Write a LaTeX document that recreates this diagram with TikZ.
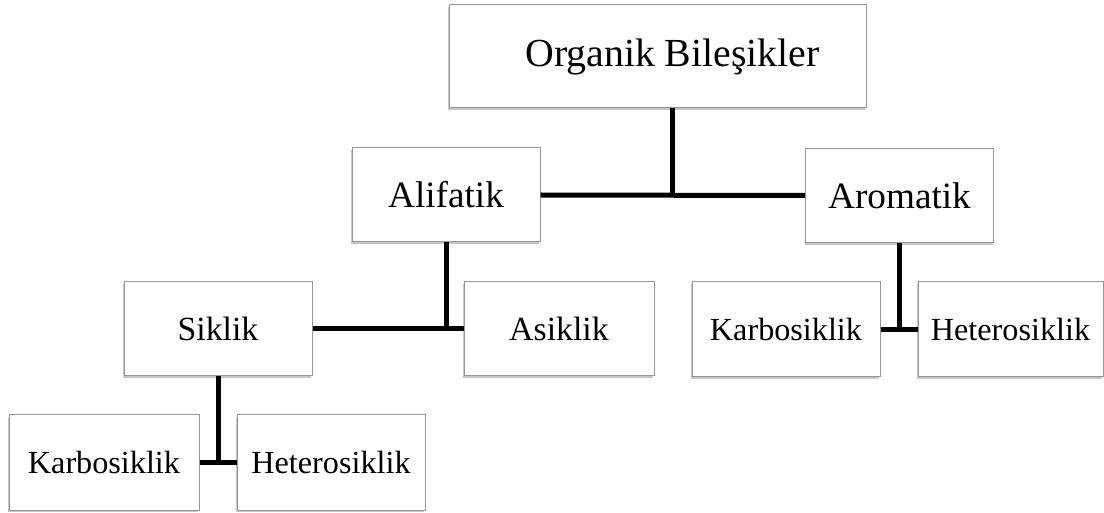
\documentclass[tikz,border=0pt]{standalone}
\usepackage{fontspec}
\setmainfont{Liberation Serif}
\usetikzlibrary{shapes,positioning,shadows,calc}
\definecolor{boxgray}{RGB}{150,150,150}
\tikzstyle{box} = [draw=boxgray, line width=0.5pt, fill=white, inner sep=0pt,
  minimum width=94pt, minimum height=47pt,
  drop shadow={shadow xshift=-0.3pt, shadow yshift=-1.2pt, opacity=0.45}]
\tikzstyle{link} = [line width=2.5pt, color=black]
\newcommand{\lvone}{\fontsize{19.9}{22}\selectfont}
\newcommand{\lvtwo}{\fontsize{18.6}{21}\selectfont}
\newcommand{\lvthree}{\fontsize{16.9}{20}\selectfont}
\newcommand{\lvfour}{\fontsize{16.1}{19}\selectfont}

\begin{document}
\begin{tikzpicture}[x=0.5pt, y=-0.5pt]
\useasboundingbox (0,0) rectangle (1104,513);
% Top level
\node[box, minimum width=208.5pt, minimum height=51.5pt, font=\lvone] (org) at (657.5,56.5) {\hspace*{15pt}Organik Bileşikler};

% Second level
\node[box, font=\lvtwo] (alif) at (446,195) {Alifatik};
\node[box, font=\lvtwo] (arom) at (899.5,195.5) {Aromatik};

% Third level
\node[box, font=\lvthree] (sik) at (218,329) {Siklik};
\node[box, minimum width=95pt, font=\lvthree] (asik) at (559,329) {Asiklik};
\node[box, minimum height=47.5pt, font=\lvfour] (karbA) at (786,329.5) {Karbosiklik};
\node[box, minimum width=92.5pt, minimum height=47.5pt, font=\lvfour] (hetA) at (1010.5,329.5) {Heterosiklik};

% Fourth level
\node[box, minimum width=95pt, minimum height=47.5pt, font=\lvfour] (karbB) at (104,462.5) {Karbosiklik};
\node[box, minimum height=47.5pt, font=\lvfour] (hetB) at (331,462.5) {Heterosiklik};

% Connectors
\coordinate (j1) at ($(alif.east)!0.5!(arom.west)$);
\draw[link] (alif.east) -- (arom.west);
\draw[link] (org.south -| j1) -- (j1);

\draw[link] (sik.east) -- (asik.west);
\draw[link] (alif.south) -- (alif.south |- sik.east);

\draw[link] (karbA.east) -- (hetA.west);
\draw[link] (arom.south) -- (arom.south |- karbA.east);

\draw[link] (karbB.east) -- (hetB.west);
\draw[link] (sik.south) -- (sik.south |- karbB.east);
\end{tikzpicture}
\end{document}
